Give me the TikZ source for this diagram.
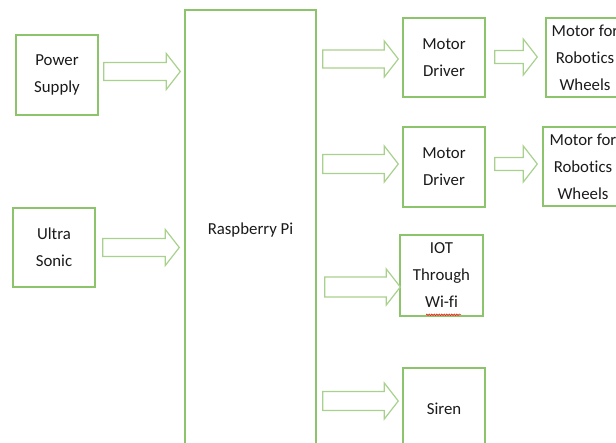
\documentclass[tikz,border=0pt]{standalone}
\usepackage{fontspec}
\setmainfont{Carlito}[Ligatures=NoCommon]
\usetikzlibrary{calc,decorations.pathmorphing}

\definecolor{boxgreen}{HTML}{8CC46C}
\definecolor{arrowgreen}{HTML}{A9D18E}
\definecolor{textgray}{HTML}{1A1A1A}

% block arrow: [shaft half width]{start}{tip}
\newcommand{\fatarrow}[3][9pt]{%
  \draw[blockarrow] let \p1=#2, \p2=#3 in
    (\x1,\y1+#1) -- (\x2-14pt,\y1+#1) -- (\x2-14pt,\y1+18pt) -- (\x2,\y1)
    -- (\x2-14pt,\y1-18pt) -- (\x2-14pt,\y1-#1) -- (\x1,\y1-#1) -- cycle;}

\begin{document}
\begin{tikzpicture}[
  x=1pt, y=-1pt,
  every node/.style={font=\fontsize{16.8}{27}\selectfont, text=textgray},
  block/.style={draw=boxgreen, line width=1.4pt, align=center, inner sep=0pt,
    minimum width=82, minimum height=80},
  blockarrow/.style={draw=arrowgreen, line width=1.2pt, fill=white},
  spellmark/.style={draw=red, line width=0.5pt, decorate,
    decoration={snake, amplitude=0.8pt, segment length=2.5pt}}
]
\clip (0,0) rectangle (616,443);

\node[block] (ps) at (57,75) {Power\\Supply};
\node[block, minimum height=79] (us) at (54,247.5) {Ultra\\Sonic};
\node[block, minimum width=131, minimum height=440] (rpi) at (250.5,230) {Raspberry Pi};

\node[block, minimum height=79] (md1) at (444,57.5) {Motor\\Driver};
\node[block] (md2) at (444,167) {Motor\\Driver};
\node[block, minimum width=78, minimum height=79] (mo1) at (585,57.5) {Motor for\\Robotics\\Wheels};
\node[block, minimum width=80, minimum height=79] (mo2) at (583,166.5) {Motor for\\Robotics\\Wheels};
\node[block, minimum width=83, minimum height=81] (iot) at (441.5,275.5) {IOT\\Through\\Wi-fi};
\node[block, minimum height=82] (siren) at (444,409) {Siren};

\draw[spellmark] ($(iot.south)+(-15.5,-2)$) -- ($(iot.south)+(19.5,-2)$);

% inputs
\fatarrow{($(ps.east)+(5,-3.5)$)}{($(ps.east -| rpi.west)+(-4,-3.5)$)}
\fatarrow{($(us.east)+(7,0)$)}{($(us.east -| rpi.west)+(-5,0)$)}

% outputs
\fatarrow{($(md1.west -| rpi.east)+(6,1.5)$)}{($(md1.west)+(-4,1.5)$)}
\fatarrow[6.5pt]{($(md1.east)+(9,-0.5)$)}{($(mo1.west)+(-8,-0.5)$)}
\fatarrow[9.5pt]{($(md2.west -| rpi.east)+(6,-3)$)}{($(md2.west)+(-4,-3)$)}
\fatarrow[6.5pt]{($(md2.east)+(9,-3)$)}{($(mo2.west)+(-5,-3)$)}
\fatarrow[10pt]{($(iot.west -| rpi.east)+(8,11.5)$)}{($(iot.west)+(1,11.5)$)}
\fatarrow[9.5pt]{($(siren.west -| rpi.east)+(6,-8)$)}{($(siren.west)+(-4,-8)$)}
\end{tikzpicture}
\end{document}
